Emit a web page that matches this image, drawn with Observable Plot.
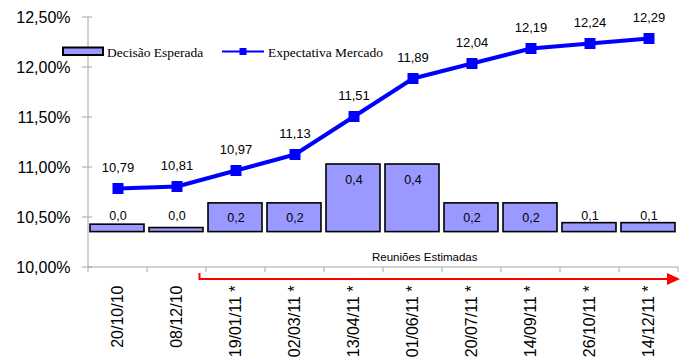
<!DOCTYPE html>
<html><head><meta charset="utf-8">
<script src="https://cdn.jsdelivr.net/npm/d3@7"></script>
<script src="https://cdn.jsdelivr.net/npm/@observablehq/plot@0.6"></script>
<style>
body{margin:0;background:#fff;}
#wrap{position:relative;width:694px;height:361px;font-family:"Liberation Sans",Arial,sans-serif;}
#legend{position:absolute;left:0;top:0;pointer-events:none;}
</style>
</head><body>
<div id="wrap"></div>
<script>
// ---- data ----
const meetings = ["20/10/10","08/12/10","19/01/11 *","02/03/11 *","13/04/11 *","01/06/11 *","20/07/11 *","14/09/11 *","26/10/11 *","14/12/11 *"];
const expectativa = [10.79,10.81,10.97,11.13,11.51,11.89,12.04,12.19,12.24,12.29];
const decisao = [0.044,0.024,0.17,0.17,0.40,0.40,0.17,0.17,0.053,0.053];
const decisaoLabels = ["0,0","0,0","0,2","0,2","0,4","0,4","0,2","0,2","0,1","0,1"];
const yTicks = [10,10.5,11,11.5,12,12.5];
const estimatedFrom = "19/01/11 *";
const arrowLabel = "Reuniões Estimadas";
const legendBar = "Decisão Esperada";
const legendLine = "Expectativa Mercado";

// secondary axis mapping (bars) onto the primary % axis
const barBase = 10.354, barScale = 1.69;

const rows = meetings.map((m,i)=>({
  m, e: expectativa[i], d: decisao[i], lab: decisaoLabels[i],
  y1: barBase, y2: barBase + decisao[i]*barScale
}));

const fmtPct = d => d.toFixed(2).replace(".", ",") + "%";
const fmtVal = d => d.toFixed(2).replace(".", ",");
const grey = "#a6a6a6";

function decorations(index, scales, values, dimensions) {
  const x = scales.x, y = scales.y;
  const {width, marginLeft, marginRight} = dimensions;
  const g = d3.create("svg:g");
  const left = marginLeft, right = width - marginRight;
  const y0 = y(yTicks[0]), yTop = y(yTicks[yTicks.length-1]);
  // y axis
  g.append("line").attr("x1",left).attr("x2",left).attr("y1",yTop).attr("y2",y0).attr("stroke",grey);
  for (const t of yTicks) g.append("line").attr("x1",left-6).attr("x2",left+4).attr("y1",y(t)).attr("y2",y(t)).attr("stroke",grey);
  // x axis with ticks at band boundaries
  g.append("line").attr("x1",left).attr("x2",right).attr("y1",y0).attr("y2",y0).attr("stroke",grey);
  const bounds = meetings.map(m => x(m)).concat([right]);
  for (const px of bounds) {
    if (!isFinite(px)) continue;
    g.append("line").attr("x1",px).attr("x2",px).attr("y1",y0).attr("y2",y0+5).attr("stroke",grey);
  }
  // red arrow for estimated meetings
  const ax0 = x(estimatedFrom) - 6.5, ax1 = right + 2, ay = y0 + 12;
  g.append("path").attr("d",`M${ax0},${ay-6}V${ay}H${ax1-12}`).attr("fill","none").attr("stroke","#ff0000").attr("stroke-width",2);
  g.append("path").attr("d",`M${ax1-13},${ay-6}L${ax1},${ay}L${ax1-13},${ay+6}Z`).attr("fill","#ff0000");
  g.append("text").attr("x",(ax0+ax1)/2 - 15).attr("y",y0-10).attr("dy","0.35em")
    .attr("text-anchor","middle").attr("font-size",11.5).attr("fill","#000").text(arrowLabel);
  return g.node();
}

const plot = Plot.plot({
  width: 694, height: 361,
  marginLeft: 88, marginRight: 16, marginTop: 17, marginBottom: 94,
  style: {fontFamily: '"Liberation Sans", Arial, sans-serif', background: "#fff", color: "#000"},
  x: {type: "band", domain: meetings, padding: 0, label: null},
  y: {domain: [10, 12.5], label: null},
  marks: [
    Plot.axisY({ticks: yTicks, tickFormat: fmtPct, tickSize: 0, tickPadding: 18, fontSize: 16, label: null}),
    Plot.axisX({tickRotate: -90, tickSize: 0, tickPadding: 18, fontSize: 16, label: null}),
    Plot.barY(rows, {x: "m", y1: "y1", y2: "y2", fill: "#9999ff", stroke: "#000", strokeWidth: 1.6, insetLeft: 2, insetRight: 3}),
    Plot.text(rows.filter(r=>r.d>=0.15), {x: "m", y: "y2", text: "lab", dy: 15, fontSize: 12.5, fill: "#000"}),
    Plot.text(rows.filter(r=>r.d<0.15), {x: "m", y: "y1", text: "lab", dy: -16, fontSize: 12.5, fill: "#000"}),
    Plot.line(rows, {x: "m", y: "e", stroke: "#0000ff", strokeWidth: 4}),
    Plot.dot(rows, {x: "m", y: "e", symbol: "square", r: 6.2, fill: "#0000ff", stroke: "none"}),
    Plot.text(rows, {x: "m", y: "e", text: d => fmtVal(d.e), dy: -21, fontSize: 13, fill: "#000"}),
    decorations
  ]
});
const wrap = document.getElementById("wrap");
wrap.appendChild(plot);

// legend overlay
const serif = '"Liberation Serif","Times New Roman",Times,serif';
const lg = d3.select(wrap).append("svg").attr("id","legend").attr("width",694).attr("height",80);
lg.append("rect").attr("x",63).attr("y",47.5).attr("width",40).attr("height",7.5).attr("fill","#9999ff").attr("stroke","#000").attr("stroke-width",2);
lg.append("text").attr("x",107).attr("y",56.5).style("font-family",serif).style("font-size","13.5px").text(legendBar);
lg.append("line").attr("x1",222).attr("x2",264).attr("y1",51.5).attr("y2",51.5).attr("stroke","#0000ff").attr("stroke-width",2);
lg.append("rect").attr("x",239.5).attr("y",48).attr("width",7).attr("height",7).attr("fill","#0000ff");
lg.append("text").attr("x",268).attr("y",56.5).style("font-family",serif).style("font-size","13.5px").text(legendLine);
</script>
</body></html>
